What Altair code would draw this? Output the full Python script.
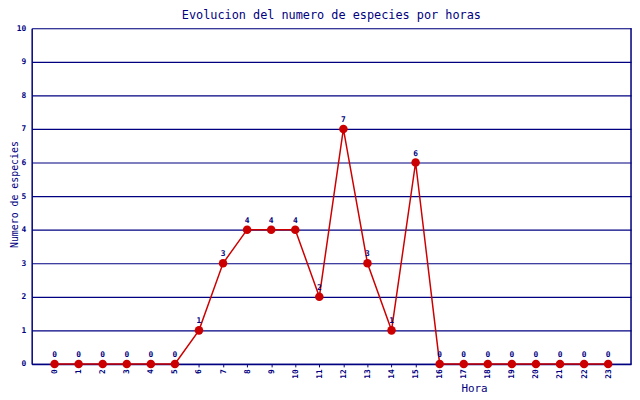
import altair as alt
import pandas as pd

horas = list(range(24))
especies = [0, 0, 0, 0, 0, 0, 1, 3, 4, 4, 4, 2, 7, 3, 1, 6, 0, 0, 0, 0, 0, 0, 0, 0]

df = pd.DataFrame({"Hora": horas, "Especies": especies})

NAVY = "#000080"
RED = "#CC0000"
FONT = "DejaVu Sans Mono"

x = alt.X("Hora:O", sort=horas,
          scale=alt.Scale(type="point", padding=0.95),
          axis=alt.Axis(title="Hora", labelAngle=270, labelAlign="right", labelBaseline="middle",
                        labelFontSize=8, labelFontWeight="bold", labelColor=NAVY, labelFont=FONT,
                        labelPadding=2, tickSize=3, tickColor=NAVY, domainColor=NAVY, domainWidth=1.5,
                        titleFont=FONT, titleFontSize=11, titleFontWeight="normal", titleColor=NAVY,
                        titleX=448, titleY=19, titleBaseline="top", grid=False))
y = alt.Y("Especies:Q",
          scale=alt.Scale(domain=[0, 10], nice=False),
          axis=alt.Axis(title="Numero de especies", values=list(range(11)), tickCount=11,
                        labelFontSize=8, labelFontWeight="bold", labelColor=NAVY, labelFont=FONT,
                        labelPadding=6, ticks=False, domainColor=NAVY, domainWidth=1.5,
                        grid=True, gridColor=NAVY, gridWidth=1.2, gridOpacity=1,
                        titleFont=FONT, titleFontSize=10, titleFontWeight="normal", titleColor=NAVY,
                        titleX=-17, titleY=168, titleAngle=270, titleAlign="center",
                        titleBaseline="middle"))

base = alt.Chart(df).encode(x=x, y=y)

line = base.mark_line(color=RED, strokeWidth=1.5)
points = base.mark_circle(color=RED, size=75, opacity=1)
labels = base.mark_text(dy=-9, font=FONT, fontSize=8, fontWeight="bold", color=NAVY).encode(
    text="Especies:Q")

right = alt.Chart(pd.DataFrame({"a": [0]})).mark_rule(color=NAVY, strokeWidth=1.5).encode(
    x=alt.value(607), y=alt.value(0), y2=alt.value(340))

chart = (line + points + labels + right).properties(
    width=607, height=340,
    title=alt.TitleParams("Evolucion del numero de especies por horas", font=FONT, fontSize=12,
                          fontWeight="normal", color=NAVY, anchor="middle", offset=2),
    autosize=alt.AutoSizeParams(type="none"),
    padding={"left": 24, "top": 18, "right": 1, "bottom": 32},
).configure_view(stroke=None).configure(background="white")

chart.save("out.html", embed_options={"renderer": "svg", "actions": False})
